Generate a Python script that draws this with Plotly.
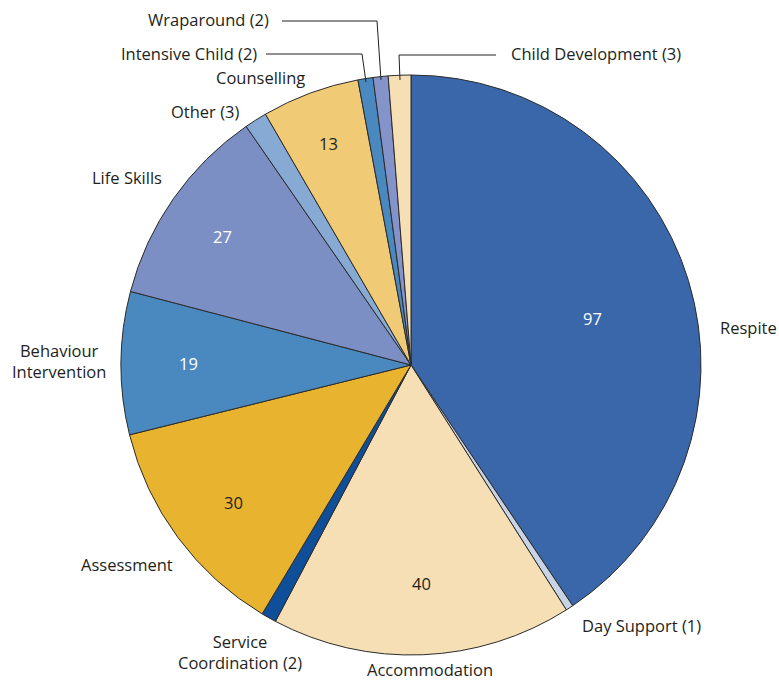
import plotly.graph_objects as go

# ---- data ----
categories = ["Respite", "Day Support", "Accommodation", "Service Coordination",
              "Assessment", "Behaviour Intervention", "Life Skills", "Other",
              "Counselling", "Intensive Child", "Wraparound", "Child Development"]
values = [97, 1, 40, 2, 30, 19, 27, 3, 13, 2, 2, 3]
outside_labels = ["Respite", "Day Support (1)", "Accommodation", "Service<br>Coordination (2)",
                  "Assessment", "Behaviour<br>Intervention", "Life Skills", "Other (3)",
                  "Counselling", "Intensive Child (2)", "Wraparound (2)", "Child Development (3)"]
inside_labels = ["97", "", "40", "", "30", "19", "27", "", "13", "", "", ""]

# ---- style ----
colors = ["#3a67aa", "#c9d3e6", "#f6dfb4", "#0f4f9a", "#e8b32f", "#4a89c0",
          "#7b8fc4", "#86aad4", "#f0ca75", "#4a88c0", "#8493c9", "#f6dfb4"]
inside_colors = ["white", None, "#231f20", None, "#231f20", "white", "white", None,
                 "#231f20", None, None, None]
FONT = "Open Sans"
FS = 16.5
W, H = 779, 681
L, R, T, B = 121, 78, 75, 26
PW = W - L - R
PH = H - T - B

def px(x, y):
    return (x - L) / PW, (H - B - y) / PH

# label positions (pixel, text center) & leader lines
label_pos = [(748, 327), (641, 625), (430, 669), (240, 652), (127, 564), (59, 361),
             (127, 177), (205, 112), (260, 78), (189, 53), (208, 20), (596, 53)]
inside_pos = [(592, 318), None, (421, 583), None, (233, 502), (188, 363), (222, 236),
              None, (328, 143), None, None, None]
leaders = [
    [(266, 54), (362, 54), (366, 82)],
    [(282, 21), (377, 21), (381, 80)],
    [(496, 55), (399, 55), (400, 80)],
]

fig = go.Figure(go.Pie(
    labels=categories, values=values, sort=False, direction="clockwise", rotation=0,
    marker=dict(colors=colors, line=dict(color="#2b2b2b", width=1)),
    textinfo="none", hoverinfo="label+value", showlegend=False,
))

annotations = []
for lab, (x, y) in zip(outside_labels, label_pos):
    ax, ay = px(x, y)
    annotations.append(dict(x=ax, y=ay, xref="paper", yref="paper", text=lab,
                            showarrow=False, xanchor="center", yanchor="middle",
                            align="center",
                            font=dict(family=FONT, size=FS, color="#231f20")))
for lab, pos, c in zip(inside_labels, inside_pos, inside_colors):
    if not lab:
        continue
    ax, ay = px(*pos)
    annotations.append(dict(x=ax, y=ay, xref="paper", yref="paper", text=lab,
                            showarrow=False, xanchor="center", yanchor="middle",
                            font=dict(family=FONT, size=FS, color=c)))

shapes = []
for pts in leaders:
    p = [px(*q) for q in pts]
    path = "M {} {} ".format(*p[0]) + " ".join("L {} {}".format(*q) for q in p[1:])
    shapes.append(dict(type="path", path=path, xref="paper", yref="paper",
                       line=dict(color="#231f20", width=1)))

fig.update_layout(
    width=W, height=H, margin=dict(l=L, r=R, t=T, b=B),
    paper_bgcolor="white", plot_bgcolor="white",
    annotations=annotations, shapes=shapes,
    font=dict(family=FONT),
)
fig.write_html("out.html", config={"displayModeBar": False},
               post_script="document.body.style.margin='0';document.body.style.overflow='hidden';")
